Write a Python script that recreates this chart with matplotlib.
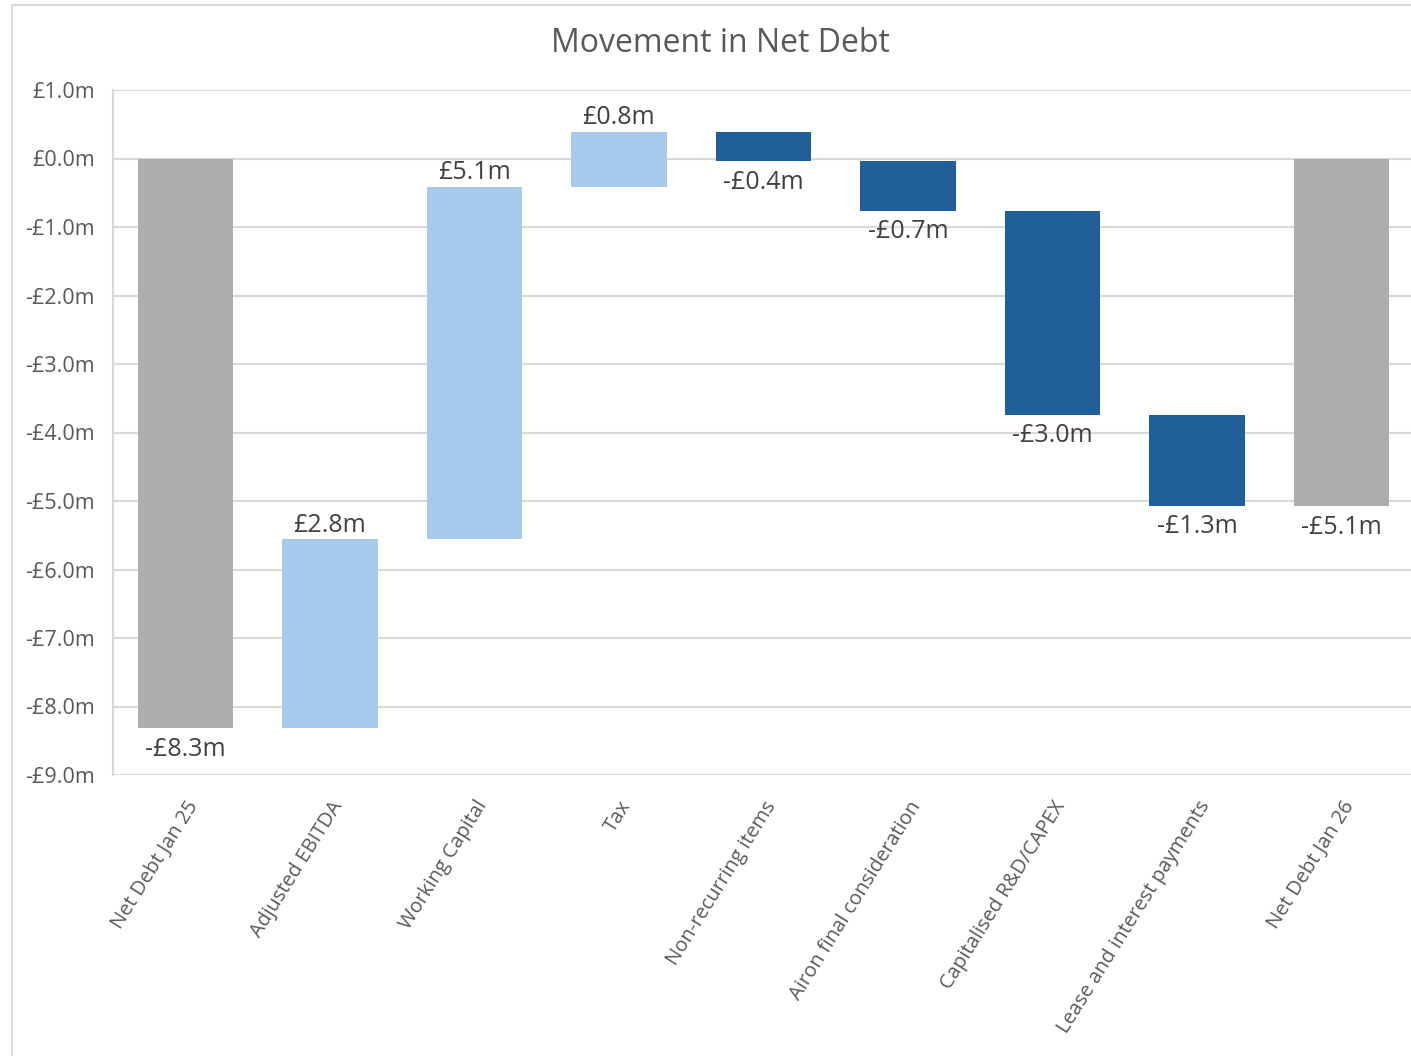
import numpy as np
import matplotlib.pyplot as plt
from matplotlib.ticker import FuncFormatter
from matplotlib.patches import Rectangle

plt.rcParams['font.family'] = ['Open Sans', 'DejaVu Sans']

#%% Data
categories = ['Net Debt Jan 25', 'Adjusted EBITDA', 'Working Capital', 'Tax',
              'Non-recurring items', 'Airon final consideration',
              'Capitalised R&D/CAPEX', 'Lease and interest payments',
              'Net Debt Jan 26']
opening = -8.32
movements = [2.76, 5.15, 0.80, -0.43, -0.72, -2.98, -1.33]
closing = -5.08
value_labels = ['-£8.3m', '£2.8m', '£5.1m', '£0.8m', '-£0.4m', '-£0.7m',
                '-£3.0m', '-£1.3m', '-£5.1m']

#%% Build waterfall segments
running = opening + np.concatenate([[0], np.cumsum(movements)])
starts = [0.0] + list(running[:-1]) + [0.0]
ends = [opening] + list(running[1:]) + [closing]

grey = '#adadad'
light_blue = '#a6c9ec'
dark_blue = '#215f9a'
colors = [grey] + [light_blue if m > 0 else dark_blue for m in movements] + [grey]

x = np.arange(len(categories))
bottoms = [min(s, e) for s, e in zip(starts, ends)]
heights = [abs(e - s) for s, e in zip(starts, ends)]

#%% Plot
fig = plt.figure(figsize=(14.11, 10.56), dpi=100)
ax = fig.add_axes([113/1411, 1 - 775/1056, 1 - 113/1411 + 0.002, (775 - 90)/1056])

# chart border
fig.patches.append(Rectangle((12/1411, -0.05), 1.2, 1 - 5/1056 + 0.05,
                             transform=fig.transFigure, fill=False,
                             ec='#d9d9d9', lw=1.5, zorder=0))

ax.bar(x, heights, bottom=bottoms, width=0.66, color=colors, zorder=3)

for i, (s, e) in enumerate(zip(starts, ends)):
    top = max(s, e)
    bot = min(s, e)
    if i in (0, len(categories) - 1) or e < s:
        ax.annotate(value_labels[i], (x[i], bot), xytext=(0, -6),
                    textcoords='offset points', ha='center', va='top',
                    fontsize=18, color='#404040')
    else:
        ax.annotate(value_labels[i], (x[i], top), xytext=(0, 1),
                    textcoords='offset points', ha='center', va='bottom',
                    fontsize=18, color='#404040')

ax.set_xlim(-0.5, len(categories) - 0.5)
ax.set_ylim(-9, 1)
ax.set_yticks(np.arange(-9, 1.5, 1))
ax.yaxis.set_major_formatter(FuncFormatter(
    lambda v, p: f'-£{abs(v):.1f}m' if v < -0.01 else f'£{abs(v):.1f}m'))
ax.grid(axis='y', color='#d9d9d9', lw=1.5, zorder=0)
ax.set_axisbelow(True)
for sp in ['top', 'right', 'bottom']:
    ax.spines[sp].set_visible(False)
ax.spines['left'].set_color('#d9d9d9')
ax.spines['left'].set_linewidth(1.5)
ax.tick_params(axis='y', length=0, labelsize=15.5, labelcolor='#595959', pad=13)
ax.tick_params(axis='x', length=0, pad=16)
ax.set_xticks(x)
ax.set_xticklabels(categories, rotation=58, ha='right', va='top',
                   rotation_mode='anchor', fontsize=14.5, color='#595959')

fig.text(720/1411, 1 - 44/1056, 'Movement in Net Debt', ha='center',
         va='center', fontsize=23, color='#595959')

fig.savefig('out.png', dpi=100)
